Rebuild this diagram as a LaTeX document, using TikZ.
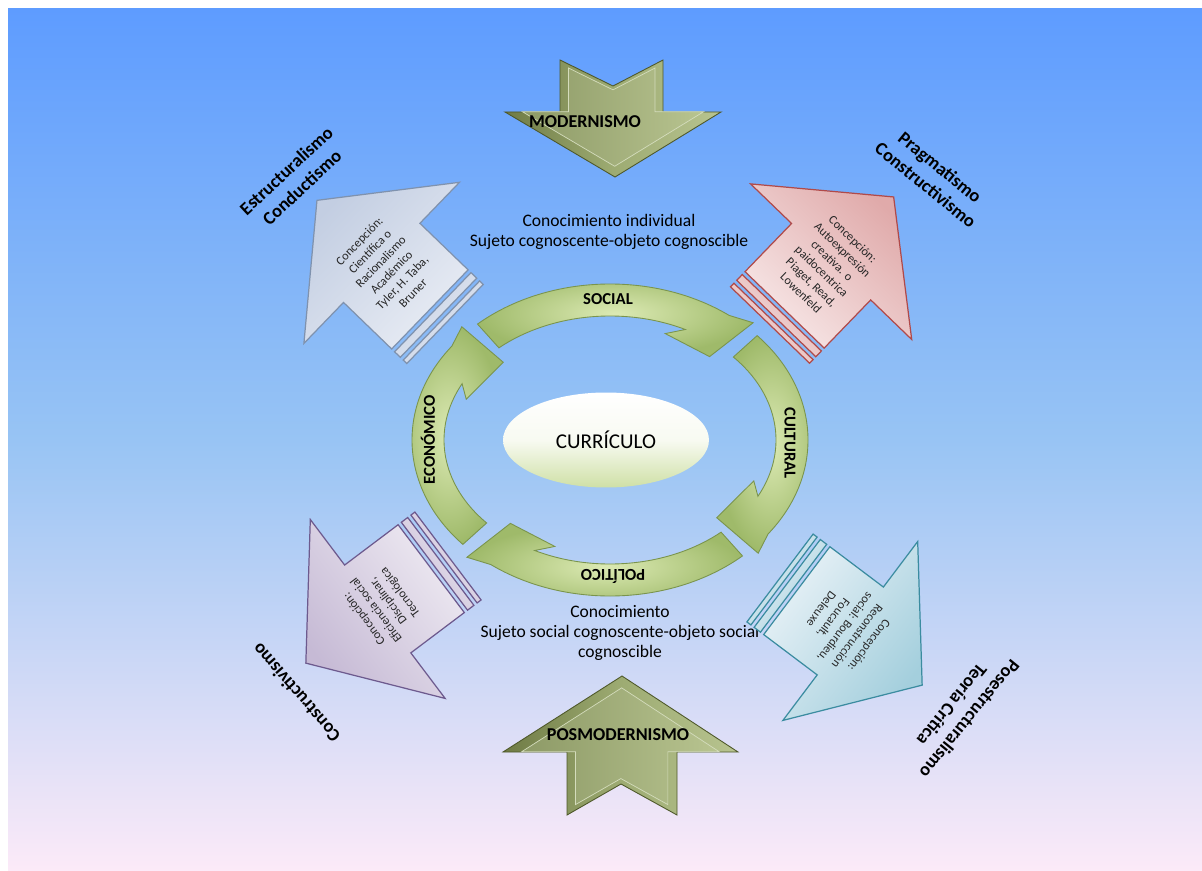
\documentclass[tikz,border=0pt]{standalone}
\usepackage{fontspec}
\setmainfont{Carlito}
\usetikzlibrary{positioning}
\usetikzlibrary{shapes.geometric}

\definecolor{fondoarriba}{HTML}{5E9CFF}
\definecolor{fondomedio}{HTML}{98C4F4}
\definecolor{fondoabajo}{HTML}{FCEAF8}
\definecolor{oliva}{HTML}{6F7B45}
\definecolor{olivaclaro}{HTML}{B8C490}
\definecolor{olivacara}{HTML}{9DAB72}
\definecolor{olivaoscuro}{HTML}{4E582A}
\definecolor{verdeclaro}{HTML}{DCEAB4}
\definecolor{verde}{HTML}{9FBA6A}
\definecolor{verdeoscuro}{HTML}{7A944C}
\definecolor{grisazul}{HTML}{7F92AE}
\definecolor{grisazulclaro}{HTML}{E8ECF4}
\definecolor{grisazulfondo}{HTML}{C3CEE2}
\definecolor{rosa}{HTML}{B04A4A}
\definecolor{rosaclaro}{HTML}{F7E7E7}
\definecolor{rosafondo}{HTML}{E0AAAA}
\definecolor{lila}{HTML}{6D5A8E}
\definecolor{lilaclaro}{HTML}{EEEAF2}
\definecolor{lilafondo}{HTML}{C6BAD5}
\definecolor{turquesa}{HTML}{3B8CA0}
\definecolor{turquesaclaro}{HTML}{E9F2F7}
\definecolor{turquesafondo}{HTML}{A4CFDD}
\definecolor{curriculo}{HTML}{CFE0A6}

\tikzstyle{base}=[inner sep=0pt, outer sep=0pt]
\tikzstyle{texto}=[base, align=center, font=\fontsize{10}{11.5}\selectfont]
\tikzstyle{titulo}=[base, align=center, font=\fontsize{10.5}{13}\selectfont\bfseries]
\tikzstyle{etiqueta}=[base, font=\fontsize{9.5}{11}\selectfont\bfseries]
\tikzstyle{bloquetexto}=[base, font=\fontsize{10.3}{12}\selectfont\bfseries]
\tikzstyle{concepcion}=[base, align=center, font=\fontsize{7}{8.5}\selectfont, text=black!85]
\tikzstyle{ciclo}=[draw=verdeoscuro, line width=0.5pt, inner color=verdeclaro, outer color=verde]
\tikzstyle{bloque}=[draw=olivaoscuro, line width=0.5pt, left color=oliva, right color=olivaclaro, middle color=olivacara]
\tikzstyle{bloquecara}=[draw=olivaclaro!60!white, line width=0.4pt, left color=olivacara!90!black, right color=olivaclaro]
\tikzstyle{rayadaazul}=[draw=grisazul, line width=0.7pt, left color=grisazulclaro, right color=grisazulfondo]
\tikzstyle{rayadarosa}=[draw=rosa, line width=0.7pt, left color=rosaclaro, right color=rosafondo]
\tikzstyle{rayadalila}=[draw=lila, line width=0.7pt, left color=lilaclaro, right color=lilafondo]
\tikzstyle{rayadaturquesa}=[draw=turquesa, line width=0.7pt, left color=turquesaclaro, right color=turquesafondo]

% flecha rayada: posicion de la cola, angulo, estilo, nombre, texto
\newcommand{\flecharayada}[5]{%
  \pgfmathsetmacro\angulosombra{#2+90}
  \begin{scope}[shift={#1}, rotate=#2]
    \draw[#3, shading angle=\angulosombra] (0,-55) rectangle (5,55);
    \draw[#3, shading angle=\angulosombra] (9,-55) rectangle (17,55);
    \draw[#3, shading angle=\angulosombra] (21,-55) -- (88,-55) -- (88,-112) -- (178,0) -- (88,112) -- (88,55) -- (21,55) -- cycle;
    \node[concepcion, rotate=#2-90] (#4) at (82,0) {#5};
  \end{scope}}

% flecha curva del ciclo: angulo de la cola, angulo de la punta
\newcommand{\flechacurva}[2]{%
  \draw[ciclo] (#1:198 and 156) arc[start angle=#1, end angle=#2+6, x radius=198, y radius=156]
    -- (#2-1:206 and 163) -- (#2:146 and 114) -- (#2+22:154 and 114)
    -- (#2+16:166 and 124) arc[start angle=#2+16, end angle=#1, x radius=166, y radius=124] -- cycle;}

\begin{document}
\begin{tikzpicture}[x=0.02cm, y=-0.02cm, base]
    \path[use as bounding box] (0,0) rectangle (1202,871);
    \fill[white] (0,0) rectangle (1202,871);
    \shade[top color=fondoarriba, bottom color=fondoabajo, middle color=fondomedio] (8,9) rectangle (1202,871);

    % modernismo y posmodernismo
    \draw[bloque] (560,60) -- (613,86) -- (663,60) -- (663,112) -- (721,112) -- (615,177) -- (505,112) -- (560,112) -- cycle;
    \draw[bloquecara, scale around={0.84:(613,110)}] (560,60) -- (613,86) -- (663,60) -- (663,112) -- (721,112) -- (615,177) -- (505,112) -- (560,112) -- cycle;
    \node[bloquetexto] (modernismo) at (585,122) {MODERNISMO};
    \draw[bloque] (622,676) -- (738,752) -- (677,752) -- (677,815) -- (621,784) -- (567,815) -- (567,752) -- (503,752) -- cycle;
    \draw[bloquecara, scale around={0.84:(620,750)}] (622,676) -- (738,752) -- (677,752) -- (677,815) -- (621,784) -- (567,815) -- (567,752) -- (503,752) -- cycle;
    \node[bloquetexto] (posmodernismo) at (618,735) {POSMODERNISMO};

    \node[texto] (individual) at (609,232) {Conocimiento individual\\Sujeto cognoscente-objeto cognoscible};
    \node[texto] (colectivo) at (620,633) {Conocimiento\\Sujeto social cognoscente-objeto social\\cognoscible};

    % flechas de las concepciones
    \flecharayada{(445,324)}{136}{rayadaazul}{cientifica}{Concepción:\\Científica o\\Racionalismo\\Académico\\Tyler, H. Taba,\\Bruner}
    \flecharayada{(770,325)}{46}{rayadarosa}{autoexpresion}{Concepción:\\Autoexpresión\\creativa. o\\paidocentrica\\Piaget, Read,\\Lowenfeld}
    \flecharayada{(448,556)}{217}{rayadalila}{eficiencia}{Concepción:\\Eficiencia social\\Disciplinar,\\Tecnológica}
    \flecharayada{(780,578)}{-37}{rayadaturquesa}{reconstruccion}{Concepción:\\Reconstrucción\\social: Bourdieu,\\Foucault,\\Deleuxe}

    \node[titulo, rotate=43] (estructuralismo) at (294,179) {Estructuralismo\\Conductismo};
    \node[titulo, rotate=-39] (pragmatismo) at (933,176) {Pragmatismo\\Constructivismo};
    \node[titulo, rotate=131] (constructivismo) at (296,693) {Constructivismo};
    \node[titulo, rotate=-129] (posestructuralismo) at (961,712) {Posestructuralismo\\Teoría Crítica};

    % ciclo
    \begin{scope}[shift={(610,440)}, yscale=-1]
        \flechacurva{132}{47}
        \flechacurva{42}{-43}
        \flechacurva{-48}{-133}
        \flechacurva{-138}{-223}
    \end{scope}
    \node[etiqueta] (social) at (608,299) {SOCIAL};
    \node[etiqueta, rotate=-90] (cultural) at (790,443) {CULTURAL};
    \node[etiqueta, rotate=180] (politico) at (613,576) {POLÍTICO};
    \node[etiqueta, rotate=90] (economico) at (428,440) {ECONÓMICO};

    \node[ellipse, minimum width=4.12cm, minimum height=1.9cm, top color=white, bottom color=curriculo, middle color=white!85!curriculo, font=\fontsize{12}{14}\selectfont] (curriculum) at (606,440) {CURRÍCULO};
\end{tikzpicture}
\end{document}
